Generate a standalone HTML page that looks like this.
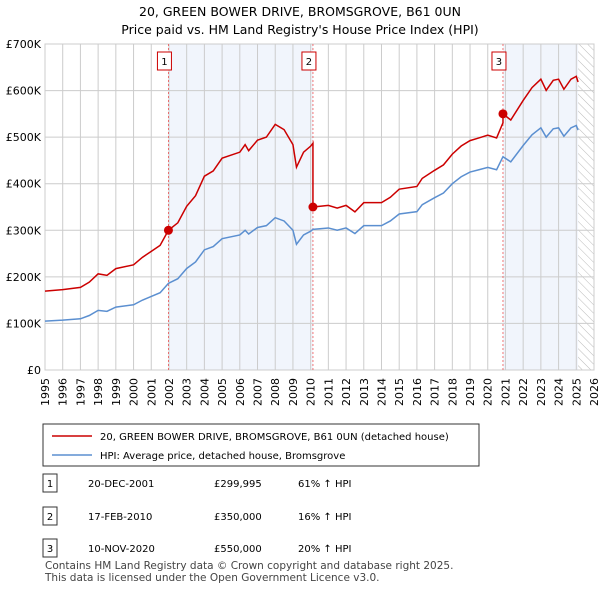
<!DOCTYPE html>
<html><head><meta charset="utf-8"><style>
body{margin:0;background:#fff;font-family:"Liberation Sans",sans-serif;color:#222}
svg text{font-family:"DejaVu Sans","Liberation Sans",sans-serif}
</style></head><body>
<svg width="600" height="590" xmlns="http://www.w3.org/2000/svg">
<text x="300" y="16" text-anchor="middle" font-size="12.5">20, GREEN BOWER DRIVE, BROMSGROVE, B61 0UN</text>
<text x="300" y="34" text-anchor="middle" font-size="12.5">Price paid vs. HM Land Registry's House Price Index (HPI)</text>
<defs><pattern id="hatch" width="6" height="6" patternUnits="userSpaceOnUse" patternTransform="rotate(-45)"><line x1="0" y1="0" x2="0" y2="6" stroke="#bbb" stroke-width="1"/></pattern></defs>
<g id="plot"></g>
<g id="legend">
<rect x="43" y="424" width="436" height="42" fill="#fff" stroke="#333"/>
<line x1="52" y1="436" x2="92" y2="436" stroke="#cc0000" stroke-width="1.5"/>
<text x="100" y="440" font-size="10">20, GREEN BOWER DRIVE, BROMSGROVE, B61 0UN (detached house)</text>
<line x1="52" y1="455" x2="92" y2="455" stroke="#5b8fd0" stroke-width="1.5"/>
<text x="100" y="459" font-size="10">HPI: Average price, detached house, Bromsgrove</text>
</g>
<g id="table" font-size="10"></g>
<text x="45" y="569" font-size="10.5" fill="#444">Contains HM Land Registry data © Crown copyright and database right 2025.</text>
<text x="45" y="581" font-size="10.5" fill="#444">This data is licensed under the Open Government Licence v3.0.</text>
</svg>
<script>
const hpiYears=[1995,1996,1997,1997.5,1998,1998.5,1999,2000,2000.5,2001,2001.5,2001.97,2002.5,2003,2003.5,2004,2004.5,2005,2006,2006.3,2006.5,2007,2007.5,2008,2008.5,2009,2009.2,2009.6,2010,2010.13,2011,2011.5,2012,2012.5,2013,2014,2014.5,2015,2016,2016.3,2017,2017.5,2018,2018.5,2019,2019.5,2020,2020.5,2020.86,2021.3,2022,2022.5,2023,2023.3,2023.7,2024,2024.3,2024.7,2025,2025.1];
const hpiValues=[105,107,110,117,128,126,135,140,150,158,166,186,196,218,232,258,265,282,290,300,292,306,310,327,320,300,270,290,298,302,305,300,305,293,310,310,320,335,340,355,370,380,400,415,425,430,435,430,458,447,482,505,520,500,518,520,502,520,525,515];
const saleLabels=["1","2","3"];
const saleYears=[2001.97,2010.13,2020.86];
const salePrices=[299995,350000,550000];
const saleDates=["20-DEC-2001","17-FEB-2010","10-NOV-2020"];
const salePriceText=["£299,995","£350,000","£550,000"];
const saleHpiText=["61% ↑ HPI","16% ↑ HPI","20% ↑ HPI"];
const yTicks=[0,100000,200000,300000,400000,500000,600000,700000];
const yTickLabels=["£0","£100K","£200K","£300K","£400K","£500K","£600K","£700K"];
const xTicks=[1995,1996,1997,1998,1999,2000,2001,2002,2003,2004,2005,2006,2007,2008,2009,2010,2011,2012,2013,2014,2015,2016,2017,2018,2019,2020,2021,2022,2023,2024,2025,2026];
const NS="http://www.w3.org/2000/svg";
const X0=45,X1=594,Y0=370,Y1=44;
const x=t=>X0+(t-1995)/(2026-1995)*(X1-X0);
const y=v=>Y0-v/700000*(Y0-Y1);
const plot=document.getElementById('plot');
function mk(tag,a,p){const e=document.createElementNS(NS,tag);for(const k in a)e.setAttribute(k,a[k]);(p||plot).appendChild(e);return e;}
// shading
[[0,1],[2,null]].forEach(([a,b],i)=>{const x2=b===null?x(2025.1):x(saleYears[b]);
const r=mk('rect',{x:x(saleYears[a]),y:Y1,width:x2-x(saleYears[a]),height:Y0-Y1,fill:'#eef2fb',opacity:0.8});

});
const h=mk('rect',{x:x(2025.1),y:Y1,width:X1-x(2025.1),height:Y0-Y1,fill:'url(#hatch)'});


// grid
yTicks.forEach((v,i)=>{const l=mk('line',{x1:X0,x2:X1,y1:y(v),y2:y(v),stroke:'#ccc'});


const t=mk('text',{x:X0-4,y:y(v)+4,'text-anchor':'end','font-size':11});t.textContent=yTickLabels[i];

});
xTicks.forEach(v=>{const l=mk('line',{x1:x(v),x2:x(v),y1:Y1,y2:Y0,stroke:'#ccc'});


const t=mk('text',{x:0,y:0,'font-size':11,transform:`translate(${x(v)+4},${Y0+36}) rotate(-90)`});t.textContent=v;

});
const fr=mk('rect',{x:X0,y:Y1,width:X1-X0,height:Y0-Y1,fill:'none',stroke:'#ccc'});


// sale lines
saleYears.forEach((s,i)=>{const l=mk('line',{x1:x(s),x2:x(s),y1:Y1,y2:Y0,stroke:'#e55','stroke-dasharray':'2,2','stroke-width':0.8});


const b=mk('rect',{x:x(s)-11,y:52,width:14,height:18,fill:'#fff',stroke:'#cc0000'});


const t=mk('text',{x:x(s)-4,y:65,'text-anchor':'middle','font-size':10});t.textContent=saleLabels[i];

});
// hpi line
const hp=hpiYears.map((t,i)=>x(t)+','+y(hpiValues[i]*1000)).join(' ');
const hl=mk('polyline',{points:hp,fill:'none',stroke:'#5b8fd0','stroke-width':1.5});


// price paid line: indexed from HPI at each sale
function hpiAt(t){for(let i=1;i<hpiYears.length;i++){if(t<=hpiYears[i]){const f=(t-hpiYears[i-1])/(hpiYears[i]-hpiYears[i-1]);return (hpiValues[i-1]+f*(hpiValues[i]-hpiValues[i-1]))*1000;}}return hpiValues[hpiValues.length-1]*1000;}
const pts=[];
hpiYears.forEach((t,i)=>{let k=0;for(let j=0;j<saleYears.length;j++)if(t>=saleYears[j])k=j;
if(i>0){for(let j=0;j<saleYears.length;j++){if(saleYears[j]>hpiYears[i-1]&&saleYears[j]<=t&&j>0){pts.push([saleYears[j],hpiAt(saleYears[j])*salePrices[j-1]/hpiAt(saleYears[j-1])]);}}}
pts.push([t,hpiValues[i]*1000*salePrices[k]/hpiAt(saleYears[k])]);});
const rl=mk('polyline',{points:pts.map(p=>x(p[0])+','+y(p[1])).join(' '),fill:'none',stroke:'#cc0000','stroke-width':1.5});


saleYears.forEach((s,i)=>{const d=mk('circle',{cx:x(s),cy:y(salePrices[i]),r:4.5,fill:'#cc0000'});

});
// table
const tb=document.getElementById('table');
const rowY=[483,516,548];
saleLabels.forEach((l,i)=>{const yy=rowY[i];
const b=mk('rect',{x:43,y:yy-9,width:14,height:18,fill:'#fff',stroke:'#333'},tb);


[[50,l,'middle'],[88,saleDates[i],'start'],[214,salePriceText[i],'start'],[298,saleHpiText[i],'start']].forEach(([xx,txt,an])=>{
const t=mk('text',{x:xx,y:yy+4,'text-anchor':an},tb);t.textContent=txt;

});});
</script>
</body></html>
